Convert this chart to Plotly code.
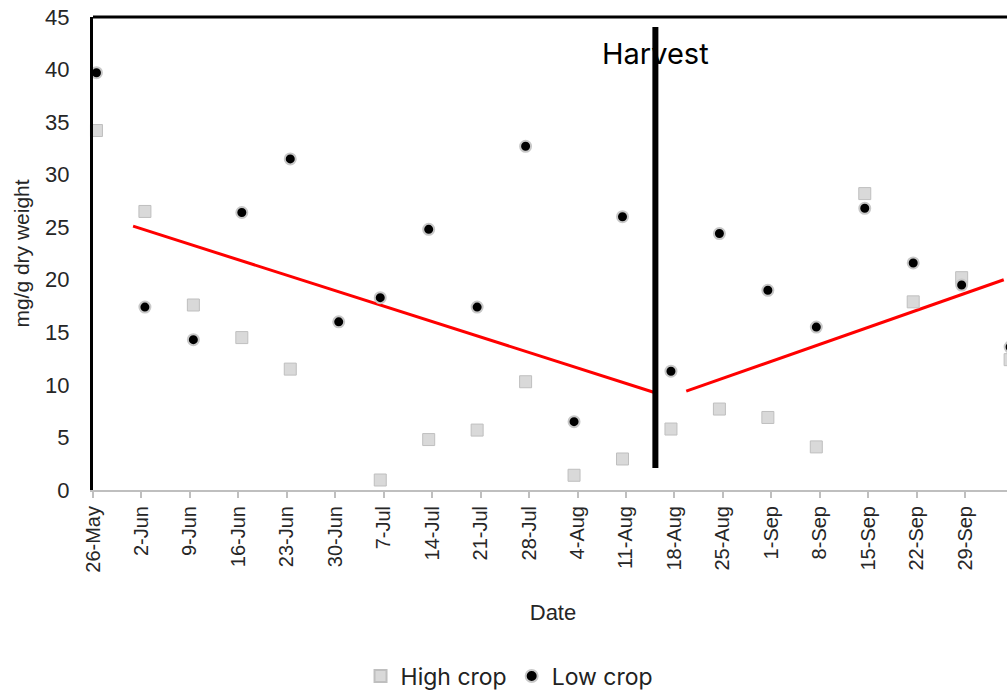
import plotly.graph_objects as go
import pandas as pd

# ---- data ----
dates = ["2014-05-26", "2014-06-02", "2014-06-09", "2014-06-16", "2014-06-23",
         "2014-06-30", "2014-07-06", "2014-07-13", "2014-07-20", "2014-07-27",
         "2014-08-03", "2014-08-10", "2014-08-17", "2014-08-24", "2014-08-31",
         "2014-09-07", "2014-09-14", "2014-09-21", "2014-09-28", "2014-10-05"]
high_crop = [34.2, 26.5, 17.6, 14.5, 11.5, None, 0.95, 4.8, 5.7, 10.3,
             1.4, 2.95, 5.8, 7.7, 6.9, 4.1, 28.2, 17.9, 20.2, 12.4]
low_crop = [39.7, 17.4, 14.3, 26.4, 31.5, 16.0, 18.3, 24.8, 17.4, 32.7,
            6.5, 26.0, 11.3, 24.4, 19.0, 15.5, 26.8, 21.6, 19.5, 13.6]

trend1_dates = ["2014-05-31 07:00", "2014-08-14 12:00"]
trend1_vals = [25.1, 9.3]
trend2_dates = ["2014-08-19 05:00", "2014-10-04 02:00"]
trend2_vals = [9.4, 20.0]

harvest_dates = ["2014-08-14 18:00", "2014-08-14 18:00"]
harvest_vals = [44.05, 2.1]
harvest_label = "Harvest"
harvest_label_y = 41.5

# Excel date axis: tick marks sit between days (half a day before each date)
tick_dates = pd.date_range("2014-05-26", "2014-09-29", freq="7D")
tick_text = [f"{d.day}-{d.strftime('%b')}" for d in tick_dates]
tick_pos = tick_dates - pd.Timedelta(hours=12)

x_range = ["2014-05-25 12:00", "2014-10-05 10:00"]
y_range = [0, 45]

TICK_FONT = "Liberation Sans, Arial, sans-serif"
OFFICE_FONT = "Inter, Open Sans, sans-serif"

fig = go.Figure()

fig.add_trace(go.Scatter(
    x=trend1_dates, y=trend1_vals, mode="lines",
    line=dict(color="#ff0000", width=3), showlegend=False, hoverinfo="skip"))
fig.add_trace(go.Scatter(
    x=trend2_dates, y=trend2_vals, mode="lines",
    line=dict(color="#ff0000", width=3), showlegend=False, hoverinfo="skip"))
fig.add_trace(go.Scatter(
    x=harvest_dates, y=harvest_vals, mode="lines",
    line=dict(color="#000000", width=6), showlegend=False, hoverinfo="skip"))

fig.add_trace(go.Scatter(
    x=dates, y=high_crop, mode="markers", name="High crop",
    marker=dict(symbol="square", size=12, color="#d9d9d9",
                line=dict(color="#bfbfbf", width=1)),
    cliponaxis=False))
fig.add_trace(go.Scatter(
    x=dates, y=low_crop, mode="markers", name="Low crop",
    marker=dict(symbol="circle", size=11, color="#000000",
                line=dict(color="#c8c8c8", width=2)),
    cliponaxis=False))

fig.add_annotation(x=harvest_dates[0], y=harvest_label_y, text=harvest_label,
                   showarrow=False, xanchor="center", yanchor="middle",
                   font=dict(family=OFFICE_FONT, size=29, color="#000000"))

# top frame line
fig.add_shape(type="line", xref="paper", yref="paper", x0=0, x1=1.01, y0=1, y1=1,
              line=dict(color="#000000", width=3), layer="above")

# the chart's plot area runs slightly past the 1007px window on the right
fig.update_layout(
    width=1013, height=697,
    margin=dict(l=93, r=0, t=17, b=207, autoexpand=False),
    paper_bgcolor="white", plot_bgcolor="white",
    showlegend=True,
    legend=dict(orientation="h", xref="container", yref="container",
                x=0.503, y=0.03, xanchor="center", yanchor="middle",
                font=dict(family=OFFICE_FONT, size=23, color="#222222"),
                itemsizing="constant", itemwidth=30, tracegroupgap=0),
    font=dict(family=TICK_FONT, color="#262626"),
)

fig.update_xaxes(
    type="date", range=x_range, automargin=False,
    tickmode="array", tickvals=tick_pos, ticktext=tick_text,
    tickangle=-90, tickfont=dict(family=TICK_FONT, size=20, color="#262626"),
    ticks="outside", ticklen=6, tickwidth=1.5, tickcolor="#bfbfbf",
    showline=True, linecolor="#bfbfbf", linewidth=2,
    showgrid=False, zeroline=False,
    title=dict(text="Date", font=dict(family=TICK_FONT, size=22, color="#262626"),
               standoff=33),
)
fig.update_yaxes(
    range=y_range, dtick=5, tick0=0, automargin=False,
    tickfont=dict(family=TICK_FONT, size=22, color="#262626"),
    ticks="", ticklabelstandoff=16,
    showline=True, linecolor="#000000", linewidth=3,
    showgrid=False, zeroline=False,
    title=dict(text="mg/g dry weight", font=dict(family=TICK_FONT, size=21, color="#262626"),
               standoff=10),
)

fig.write_html("out.html", config={"displayModeBar": False},
               post_script="document.body.style.margin='0px';document.body.style.overflow='hidden';")
